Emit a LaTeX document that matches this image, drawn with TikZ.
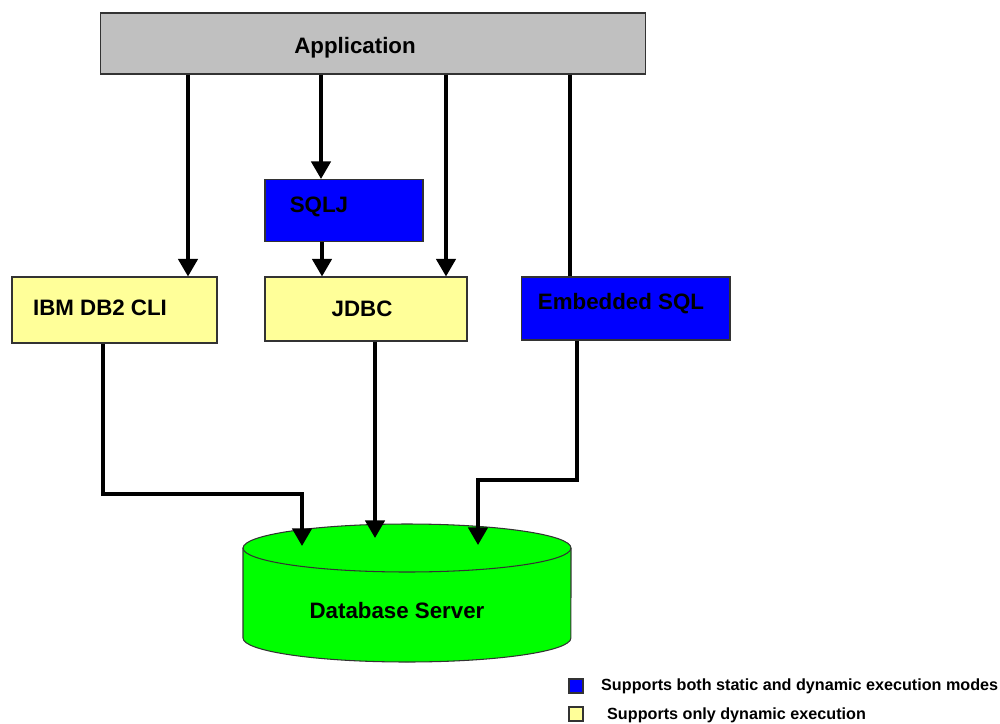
\documentclass[tikz,border=0pt]{standalone}
\usepackage{fontspec}
\setmainfont{Liberation Sans}
\usepackage{xcolor}
\usetikzlibrary{arrows.meta,positioning,calc}

\definecolor{appgray}{HTML}{C0C0C0}
\definecolor{sqlblue}{HTML}{0000FF}
\definecolor{cliyellow}{HTML}{FFFF99}
\definecolor{dbgreen}{HTML}{00FF00}

\begin{document}
\begin{tikzpicture}[x=0.02cm, y=-0.02cm,
    box/.style={rectangle, draw=black!80, line width=0.6pt},
    lbl/.style={font=\fontsize{12.7}{15}\selectfont\bfseries},
    conn/.style={line width=2pt},
    arr/.style={conn, -{Triangle[width=11pt,length=10pt]}},
    key/.style={rectangle, draw=black!80, line width=0.6pt, minimum size=0.28cm, inner sep=0pt},
    keytext/.style={font=\fontsize{9.2}{11}\selectfont\bfseries, anchor=west}]
    \useasboundingbox (0,0) rectangle (1000,723);

    % Application
    \node[box, minimum height=1.22cm, minimum width=10.92cm, fill=appgray] (app) at (373,43.5) {};
    \node[lbl] (appText) at (355,48) {Application};

    % Interfaces
    \node[box, minimum height=1.24cm, minimum width=3.16cm, fill=sqlblue] (sqlj) at (344,210.5) {};
    \node[lbl] (sqljText) at (319,207) {SQLJ};
    \node[box, minimum height=1.32cm, minimum width=4.1cm, fill=cliyellow] (cli) at (114.5,310) {};
    \node[lbl] (cliText) at (100,308) {IBM DB2 CLI};
    \node[box, minimum height=1.28cm, minimum width=4.04cm, fill=cliyellow] (jdbc) at (366,309) {};
    \node[lbl] (jdbcText) at (362,309) {JDBC};
    \node[box, minimum height=1.26cm, minimum width=4.18cm, fill=sqlblue] (embsql) at (625.5,308.5) {};
    \node[lbl] (embsqlText) at (621,304) {Embedded SQL};

    % Database server
    \draw[draw=black!80, line width=0.6pt, fill=dbgreen] (243,548) -- (243,638)
        arc[start angle=180, end angle=360, x radius=3.28cm, y radius=0.48cm] -- (571,548)
        arc[start angle=0, end angle=180, x radius=3.28cm, y radius=0.48cm] -- cycle;
    \draw[draw=black!80, line width=0.6pt] (243,548)
        arc[start angle=180, end angle=360, x radius=3.28cm, y radius=0.48cm];
    \node[lbl] (dbText) at (397,611) {Database Server};

    % Drop points
    \coordinate (x1) at (188,0);
    \coordinate (x2) at (321,0);
    \coordinate (x3) at (446,0);
    \coordinate (x4) at (570,0);
    \coordinate (x5) at (322,0);
    \coordinate (b1) at (103,494);
    \coordinate (b2) at (577,480);
    \coordinate (dbL) at (302,546);
    \coordinate (dbM) at (375,538);
    \coordinate (dbR) at (478,545);

    % Connections
    \draw[arr] (app.south -| x1) -- (cli.north -| x1);
    \draw[arr] (app.south -| x2) -- (sqlj.north -| x2);
    \draw[arr] (app.south -| x3) -- (jdbc.north -| x3);
    \draw[conn] (app.south -| x4) -- (embsql.north -| x4);
    \draw[arr] (sqlj.south -| x5) -- (jdbc.north -| x5);
    \draw[arr] (cli.south -| b1) -- (b1) -| (dbL);
    \draw[arr] (jdbc.south -| dbM) -- (dbM);
    \draw[arr] (embsql.south -| b2) -- (b2) -| (dbR);

    % Legend
    \node[key, fill=sqlblue] (keyBoth) at (576,686) {};
    \node[keytext] (keyBothText) at (595,686) {Supports both static and dynamic execution modes};
    \node[key, fill=cliyellow] (keyDyn) at (576,714) {};
    \node[keytext] (keyDynText) at (601,715) {Supports only dynamic execution};
\end{tikzpicture}
\end{document}
